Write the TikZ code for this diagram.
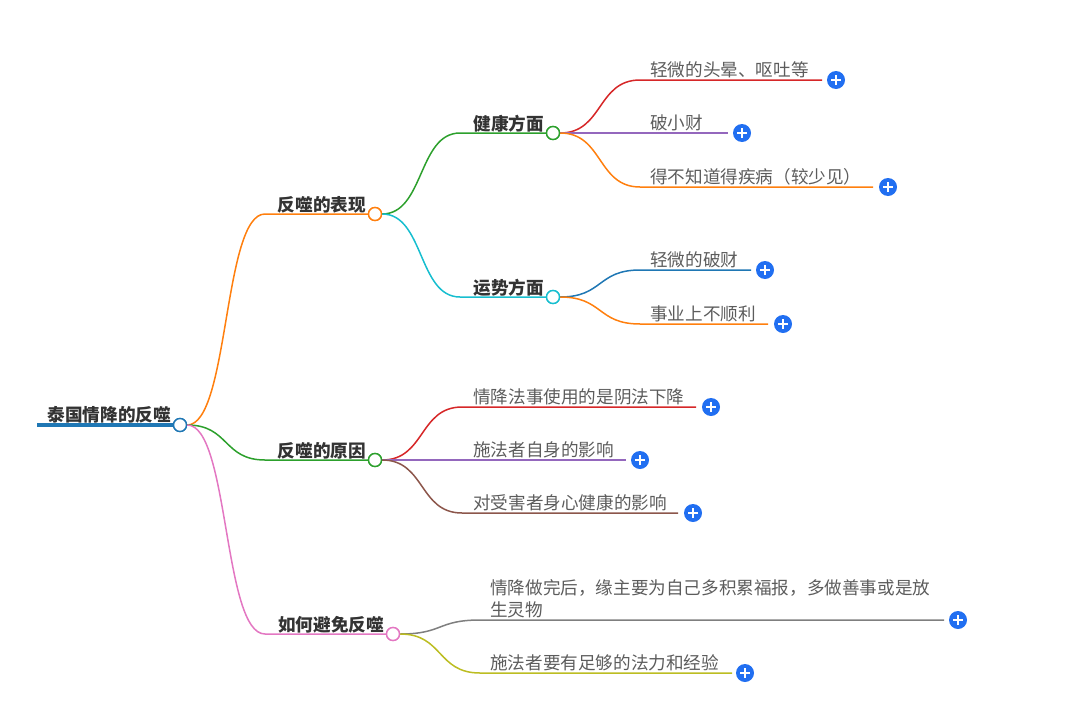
\documentclass[tikz,border=0pt]{standalone}
\usepackage{fontspec}
\newfontfamily\cjk{Noto Sans CJK SC}
\definecolor{rootblue}{HTML}{1F77B4}
\definecolor{torange}{HTML}{FF7F0E}
\definecolor{tgreen}{HTML}{2CA02C}
\definecolor{tred}{HTML}{D62728}
\definecolor{tpurple}{HTML}{9467BD}
\definecolor{tbrown}{HTML}{8C564B}
\definecolor{tpink}{HTML}{E377C2}
\definecolor{tgray}{HTML}{7F7F7F}
\definecolor{tolive}{HTML}{BCBD22}
\definecolor{tcyan}{HTML}{17BECF}
\definecolor{plusblue}{RGB}{33,111,241}
\definecolor{leafgray}{HTML}{5C5C5C}
\definecolor{darktext}{HTML}{333333}
\begin{document}
\begin{tikzpicture}[x=1pt,y=-1pt,
  hub/.style={circle,draw,fill=white,line width=1.4pt,minimum size=13pt,inner sep=0pt},
  plusbtn/.style={circle,fill=plusblue,minimum size=18pt,inner sep=0pt,
    path picture={\draw[white,line width=2pt]
      ([xshift=-5pt]path picture bounding box.center) -- ([xshift=5pt]path picture bounding box.center)
      ([yshift=-5pt]path picture bounding box.center) -- ([yshift=5pt]path picture bounding box.center);}},
  leaf/.style={anchor=base west,text=leafgray,font=\cjk\fontsize{17.6}{22}\selectfont,inner sep=0pt,align=left},
  mainlbl/.style={anchor=base east,text=darktext,font=\cjk\bfseries\fontsize{17.6}{22}\selectfont,inner sep=0pt},
  conn/.style={line width=1.5pt}]
\useasboundingbox (0,0) rectangle (1070,720);

% root
\coordinate (r0) at (37,425);
\node[hub,draw=rootblue] (r) at (180,425) {};
\draw[line width=4pt,rootblue] (r0) -- (r.west);
\node[mainlbl] (rt) at (171,421) {泰国情降的反噬};

% level 1
\coordinate (a1) at (265,214);
\coordinate (a2) at (265,460);
\coordinate (a3) at (265,634);
\node[hub,draw=torange] (h1) at (375,214) {};
\node[hub,draw=tgreen] (h2) at (375,460) {};
\node[hub,draw=tpink] (h3) at (393,634) {};
\draw[conn,torange] (r.east) .. controls +(42,0) and +(-42,0) .. (a1) -- (h1.west);
\draw[conn,tgreen] (r.east) .. controls +(42,0) and +(-42,0) .. (a2) -- (h2.west);
\draw[conn,tpink] (r.east) .. controls +(42,0) and +(-42,0) .. (a3) -- (h3.west);
\node[mainlbl] (h1t) at (366,211) {反噬的表现};
\node[mainlbl] (h2t) at (366,457) {反噬的原因};
\node[mainlbl] (h3t) at (384,631) {如何避免反噬};

% level 2
\coordinate (b1) at (460,133);
\coordinate (b2) at (460,297);
\node[hub,draw=tgreen] (k1) at (553,133) {};
\node[hub,draw=tcyan] (k2) at (553,297) {};
\draw[conn,tgreen] (h1.east) .. controls +(42,0) and +(-42,0) .. (b1) -- (k1.west);
\draw[conn,tcyan] (h1.east) .. controls +(42,0) and +(-42,0) .. (b2) -- (k2.west);
\node[mainlbl] (k1t) at (544,130) {健康方面};
\node[mainlbl] (k2t) at (544,294) {运势方面};
\node[hub,draw=torange] at (375,214) {};
\node[hub,draw=rootblue] at (180,425) {};

% leaves of 健康方面
\coordinate (c1) at (640,80);  \coordinate (e1) at (822,80);
\coordinate (c2) at (640,133); \coordinate (e2) at (728,133);
\coordinate (c3) at (640,187); \coordinate (e3) at (873,187);
\draw[conn,tred] (k1.east) .. controls +(43,0) and +(-43,0) .. (c1) -- (e1);
\draw[conn,tpurple] (k1.east) -- (c2) -- (e2);
\draw[conn,torange] (k1.east) .. controls +(43,0) and +(-43,0) .. (c3) -- (e3);
\node[leaf] (t1) at (650,76) {轻微的头晕、呕吐等};
\node[leaf] (t2) at (650,129) {破小财};
\node[leaf] (t3) at (650,183) {得不知道得疾病（较少见）};
\node[plusbtn] (p1) at (836,80) {};
\node[plusbtn] (p2) at (742,133) {};
\node[plusbtn] (p3) at (888,187) {};

% leaves of 运势方面
\coordinate (c4) at (640,270); \coordinate (e4) at (751,270);
\coordinate (c5) at (640,324); \coordinate (e5) at (768,324);
\draw[conn,rootblue] (k2.east) .. controls +(43,0) and +(-43,0) .. (c4) -- (e4);
\draw[conn,torange] (k2.east) .. controls +(43,0) and +(-43,0) .. (c5) -- (e5);
\node[leaf] (t4) at (650,266) {轻微的破财};
\node[leaf] (t5) at (650,320) {事业上不顺利};
\node[plusbtn] (p4) at (765,270) {};
\node[plusbtn] (p5) at (783,324) {};
\node[hub,draw=tgreen] at (553,133) {};
\node[hub,draw=tcyan] at (553,297) {};

% leaves of 反噬的原因
\coordinate (c6) at (462,407); \coordinate (e6) at (696,407);
\coordinate (c7) at (462,460); \coordinate (e7) at (626,460);
\coordinate (c8) at (462,513); \coordinate (e8) at (678,513);
\draw[conn,tred] (h2.east) .. controls +(43,0) and +(-43,0) .. (c6) -- (e6);
\draw[conn,tpurple] (h2.east) -- (c7) -- (e7);
\draw[conn,tbrown] (h2.east) .. controls +(43,0) and +(-43,0) .. (c8) -- (e8);
\node[leaf] (t6) at (473,403) {情降法事使用的是阴法下降};
\node[leaf] (t7) at (473,456) {施法者自身的影响};
\node[leaf] (t8) at (473,509) {对受害者身心健康的影响};
\node[plusbtn] (p6) at (711,407) {};
\node[plusbtn] (p7) at (640,460) {};
\node[plusbtn] (p8) at (693,513) {};
\node[hub,draw=tgreen] at (375,460) {};

% leaves of 如何避免反噬
\coordinate (c9) at (480,620);  \coordinate (e9) at (944,620);
\coordinate (c10) at (480,673); \coordinate (e10) at (732,673);
\draw[conn,tgray] (h3.east) .. controls +(43,0) and +(-43,0) .. (c9) -- (e9);
\draw[conn,tolive] (h3.east) .. controls +(43,0) and +(-43,0) .. (c10) -- (e10);
\node[leaf,anchor=south west] (t9) at (490,618) {情降做完后，缘主要为自己多积累福报，多做善事或是放\\生灵物};
\node[leaf] (t10) at (490,669) {施法者要有足够的法力和经验};
\node[plusbtn] (p9) at (958,620) {};
\node[plusbtn] (p10) at (745,673) {};
\node[hub,draw=tpink] at (393,634) {};
\end{tikzpicture}
\end{document}
